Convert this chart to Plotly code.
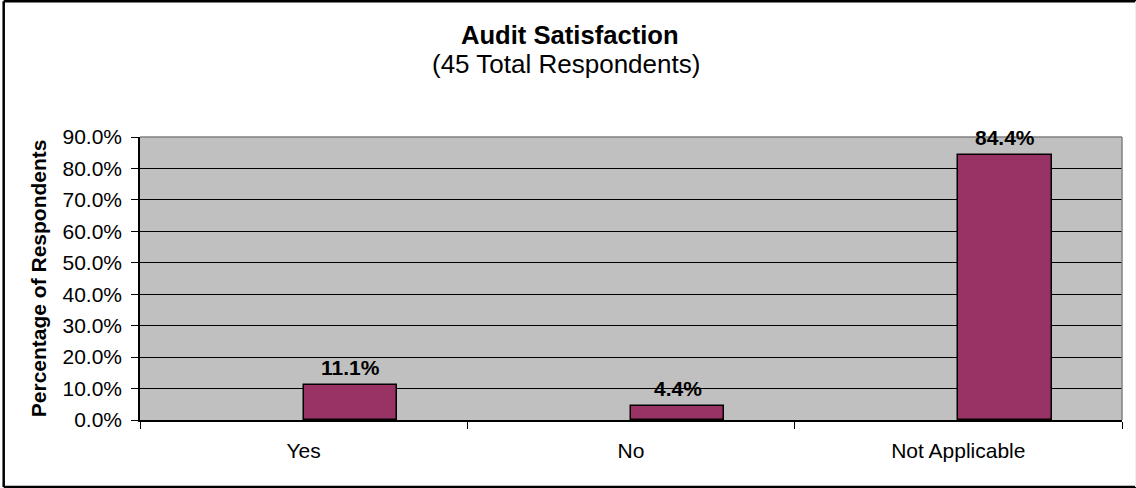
import plotly.graph_objects as go

# Survey responses (percent of 45 respondents)
categories = ["Yes", "No", "Not Applicable"]
percent_values = [11.1, 4.4, 84.4]
y_tick_values = [0, 10, 20, 30, 40, 50, 60, 70, 80, 90]
y_tick_labels = [f"{v:.1f}%" for v in y_tick_values]

title_text = "Audit Satisfaction"
subtitle_text = "(45 Total Respondents)"
y_title_text = "Percentage of Respondents"

FONT = "Liberation Sans, Arial, sans-serif"
BAR_COLOR = "#993366"
PLOT_BG = "#C0C0C0"
BAR_WIDTH = 0.285

# plot area geometry in pixels
W, H = 1136, 488
L, R, T, B = 140, 14, 137, 68
PW, PH = W - L - R, H - T - B


def px_x(x):
    return (x - L) / PW


def px_y(y):
    return (H - B - y) / PH


fig = go.Figure(
    go.Bar(
        x=categories,
        y=percent_values,
        width=BAR_WIDTH,
        offset=0,
        marker=dict(color=BAR_COLOR, line=dict(color="#000000", width=1.5)),
        hoverinfo="x+y",
    )
)

annotations = []
# value labels above each bar
for i, v in enumerate(percent_values):
    annotations.append(
        dict(
            x=i + BAR_WIDTH / 2,
            y=v,
            xref="x",
            yref="y",
            text=f"<b>{v:.1f}%</b>",
            showarrow=False,
            yanchor="bottom",
            xanchor="center",
            yshift=4,
            font=dict(family=FONT, size=21, color="#000000"),
        )
    )

# chart title and subtitle
annotations.append(
    dict(
        x=px_x(570), y=px_y(35.5), xref="paper", yref="paper",
        text=f"<b>{title_text}</b>", showarrow=False,
        xanchor="center", yanchor="middle",
        font=dict(family=FONT, size=25.6, color="#000000"),
    )
)
annotations.append(
    dict(
        x=px_x(566), y=px_y(63.8), xref="paper", yref="paper",
        text=subtitle_text, showarrow=False,
        xanchor="center", yanchor="middle",
        font=dict(family=FONT, size=26, color="#000000"),
    )
)
# y-axis title
annotations.append(
    dict(
        x=px_x(38.7), y=0.5, xref="paper", yref="paper",
        text=f"<b>{y_title_text}</b>", showarrow=False, textangle=-90,
        xanchor="center", yanchor="middle",
        font=dict(family=FONT, size=21, color="#000000"),
    )
)

frame_line = dict(color="#000000", width=2.5)
fx0, fx1 = px_x(3.7), px_x(1140)
fy_top, fy_bot = px_y(1.3), px_y(487)
shapes = [
    # outer chart frame: left, top and bottom edges (right edge lies past the page)
    dict(type="line", xref="paper", yref="paper",
         x0=fx0, x1=fx0, y0=fy_bot, y1=fy_top, line=frame_line, layer="above"),
    dict(type="line", xref="paper", yref="paper",
         x0=fx0, x1=fx1, y0=fy_top, y1=fy_top, line=frame_line, layer="above"),
    dict(type="line", xref="paper", yref="paper",
         x0=fx0, x1=fx1, y0=fy_bot, y1=fy_bot, line=frame_line, layer="above"),
    # faint right edge
    dict(type="line", xref="paper", yref="paper",
         x0=px_x(1135.5), x1=px_x(1135.5), y0=fy_bot, y1=fy_top,
         line=dict(color="#EEEEEE", width=1), layer="above"),
    # gray plot-area border on top and right
    dict(type="line", xref="paper", yref="paper",
         x0=0, x1=1, y0=1, y1=1,
         line=dict(color="#808080", width=1.5), layer="above"),
    dict(type="line", xref="paper", yref="paper",
         x0=1, x1=1, y0=0, y1=1,
         line=dict(color="#808080", width=1.5), layer="above"),
]

fig.update_layout(
    width=W,
    height=H,
    margin=dict(l=L, r=R, t=T, b=B, pad=0),
    paper_bgcolor="#FFFFFF",
    plot_bgcolor=PLOT_BG,
    showlegend=False,
    bargap=0,
    font=dict(family=FONT, size=21, color="#000000"),
    annotations=annotations,
    shapes=shapes,
    xaxis=dict(
        type="category",
        range=[-0.5, 2.5],
        tickson="boundaries",
        ticks="outside",
        ticklen=7,
        tickcolor="#000000",
        tickwidth=1,
        ticklabelstandoff=11,
        showline=True,
        linecolor="#000000",
        linewidth=1.5,
        showgrid=False,
        tickfont=dict(family=FONT, size=21, color="#000000"),
        fixedrange=True,
    ),
    yaxis=dict(
        range=[0, 90],
        tickvals=y_tick_values,
        ticktext=y_tick_labels,
        ticks="outside",
        ticklen=7,
        tickcolor="#000000",
        tickwidth=1,
        ticklabelstandoff=5,
        showline=True,
        linecolor="#000000",
        linewidth=1.5,
        showgrid=True,
        gridcolor="#000000",
        gridwidth=1,
        zeroline=False,
        tickfont=dict(family=FONT, size=21, color="#000000"),
        fixedrange=True,
    ),
)

# keep the page from showing scrollbars around the fixed-size figure
page_script = (
    "document.documentElement.style.overflow='hidden';"
    "document.body.style.overflow='hidden';"
    "document.body.style.margin='0';"
)

fig.write_html("out.html", config=dict(displayModeBar=False), post_script=page_script)
